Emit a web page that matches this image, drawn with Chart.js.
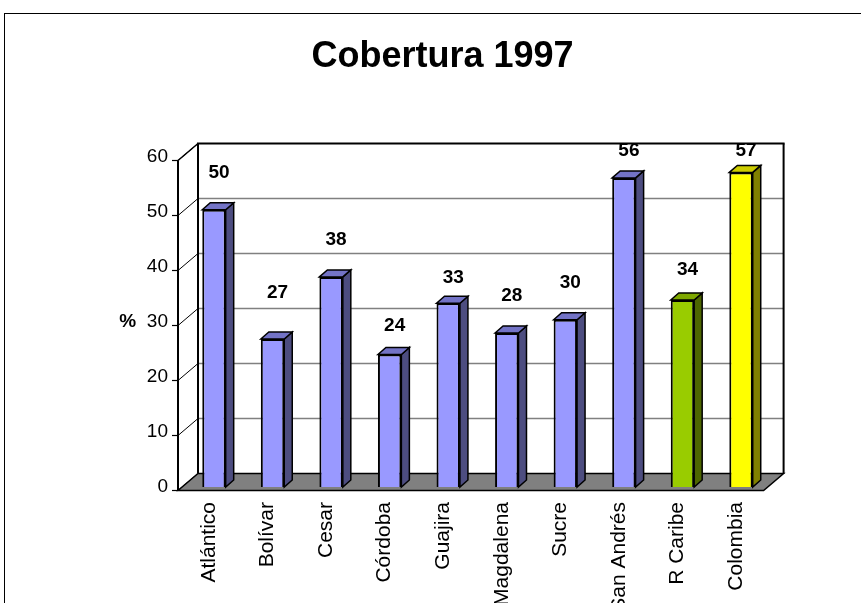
<!DOCTYPE html>
<html><head><meta charset="utf-8">
<script src="https://cdn.jsdelivr.net/npm/chart.js@4/dist/chart.umd.min.js"></script>
<style>html,body{margin:0;padding:0;background:#fff;}#wrap{width:861px;height:603px;}</style>
</head><body><div id="wrap"><canvas id="c" width="861" height="603"></canvas></div>
<script>
// ---- data ----
const categories = ['Atlántico','Bolívar','Cesar','Córdoba','Guajira','Magdalena','Sucre','San Andrés','R Caribe','Colombia'];
const coverage = [50.4, 26.9, 38.2, 24.1, 33.4, 28.0, 30.4, 56.2, 34.0, 57.2];
const yTicks = [0, 10, 20, 30, 40, 50, 60];
const yAxisTitle = '%';
const chartTitle = 'Cobertura 1997';

// ---- styles ----
const FONT = '"Liberation Sans", Arial, sans-serif';
const frontColors = ['#9999FF','#9999FF','#9999FF','#9999FF','#9999FF','#9999FF','#9999FF','#9999FF','#99CC00','#FFFF00'];
const topColors   = ['#7373C6','#7373C6','#7373C6','#7373C6','#7373C6','#7373C6','#7373C6','#7373C6','#7FA800','#CCCC00'];
const sideColors  = ['#4D4D80','#4D4D80','#4D4D80','#4D4D80','#4D4D80','#4D4D80','#4D4D80','#4D4D80','#4D6600','#808000'];
const labelLift = [37.5, 46, 37, 28.5, 26, 37, 37, 27.5, 30, 21.5];
const P = {fx:-6.7, fy:3.5, bx:13.3, by:-13.5};
const BAR_DX = 8, BAR_DY = -7;

function poly(ctx, pts, fill, stroke, lw){
  ctx.beginPath();
  ctx.moveTo(pts[0][0], pts[0][1]);
  for (let i=1;i<pts.length;i++) ctx.lineTo(pts[i][0], pts[i][1]);
  ctx.closePath();
  if (fill){ ctx.fillStyle = fill; ctx.fill(); }
  if (stroke){ ctx.strokeStyle = stroke; ctx.lineWidth = lw || 1; ctx.stroke(); }
}
function line(ctx, x1,y1,x2,y2, color, lw){
  ctx.beginPath(); ctx.moveTo(x1,y1); ctx.lineTo(x2,y2);
  ctx.strokeStyle = color; ctx.lineWidth = lw; ctx.stroke();
}

const threeD = {
  id: 'threeD',
  beforeDraw(chart){
    const ctx = chart.ctx;
    ctx.save();
    ctx.fillStyle = '#fff';
    ctx.fillRect(0,0,chart.width,chart.height);
    ctx.strokeStyle = '#000'; ctx.lineWidth = 1;
    ctx.strokeRect(4.5, 13.5, chart.width + 20, chart.height + 20);
    ctx.restore();
  },
  beforeDatasetsDraw(chart){
    const {ctx, chartArea:a, scales:{y}} = chart;
    const yMax = yTicks[yTicks.length-1];
    const y0 = y.getPixelForValue(0), yT = y.getPixelForValue(yMax);
    const fL = a.left + P.fx, fR = a.right + P.fx;
    const bL = a.left + P.bx, bR = a.right + P.bx;
    ctx.save();
    ctx.lineJoin = 'miter';
    // back wall
    ctx.fillStyle = '#fff';
    ctx.fillRect(bL, yT + P.by, bR - bL, y0 - yT);
    // back wall gridlines
    yTicks.forEach(v => {
      if (v === 0 || v === yMax) return;
      const yy = y.getPixelForValue(v) + P.by;
      line(ctx, bL, yy, bR, yy, '#808080', 1.5);
    });
    // left wall
    poly(ctx, [[fL, yT+P.fy],[bL, yT+P.by],[bL, y0+P.by],[fL, y0+P.fy]], '#fff');
    yTicks.forEach(v => {
      const yv = y.getPixelForValue(v);
      line(ctx, fL, yv+P.fy, bL, yv+P.by, '#000', 1);
    });
    // floor
    poly(ctx, [[fL, y0+P.fy],[fR, y0+P.fy],[bR, y0+P.by],[bL, y0+P.by]], '#808080', '#000', 1.5);
    // back wall border
    line(ctx, bL, y0+P.by, bL, yT+P.by, '#000', 2);
    line(ctx, bL-1, yT+P.by, bR+1, yT+P.by, '#000', 2);
    line(ctx, bR, yT+P.by, bR, y0+P.by, '#000', 2);
    line(ctx, fL, yT+P.fy, bL, yT+P.by, '#000', 1.5);
    // front axis
    line(ctx, fL, yT+P.fy, fL, y0+P.fy, '#000', 2);
    yTicks.forEach(v => {
      const yv = y.getPixelForValue(v) + P.fy;
      line(ctx, fL-6, yv, fL, yv, '#000', 1.2);
    });
    ctx.restore();
  },
  afterDatasetsDraw(chart){
    const ctx = chart.ctx;
    const meta = chart.getDatasetMeta(0);
    ctx.save();
    ctx.lineJoin = 'miter';
    meta.data.forEach((bar, i) => {
      const {x, y, base, width} = bar.getProps(['x','y','base','width'], true);
      const l = x - width/2, r = x + width/2;
      poly(ctx, [[r,y],[r+BAR_DX,y+BAR_DY],[r+BAR_DX,base+BAR_DY],[r,base]], sideColors[i], '#000', 1.5);
      poly(ctx, [[l,y],[l+BAR_DX,y+BAR_DY],[r+BAR_DX,y+BAR_DY],[r,y]], topColors[i], '#000', 1.5);
      ctx.fillStyle = '#000';
      ctx.font = 'bold 19px ' + FONT;
      ctx.textAlign = 'center';
      ctx.textBaseline = 'middle';
      ctx.fillText(String(Math.round(coverage[i])), x + 5, y - labelLift[i]);
    });
    ctx.restore();
  },
  afterDraw(chart){
    const {ctx, chartArea:a, scales:{y}} = chart;
    ctx.save();
    ctx.fillStyle = '#000';
    ctx.font = 'bold 19px ' + FONT;
    ctx.textAlign = 'center';
    ctx.textBaseline = 'middle';
    ctx.fillText(yAxisTitle, a.left - 57, y.getPixelForValue(30));
    ctx.restore();
  }
};

new Chart(document.getElementById('c'), {
  type: 'bar',
  data: {
    labels: categories,
    datasets: [{
      data: coverage,
      backgroundColor: frontColors,
      borderColor: '#000',
      borderWidth: 2,
      barPercentage: 0.4,
      categoryPercentage: 1
    }]
  },
  options: {
    responsive: false,
    animation: false,
    devicePixelRatio: 1,
    layout: {padding: {left: 24, right: 0, top: 0, bottom: 0}},
    plugins: {
      legend: {display: false},
      tooltip: {enabled: false},
      title: {
        display: true, text: chartTitle, color: '#000',
        font: {family: FONT, size: 36, weight: 'bold'},
        padding: {top: 35.4, bottom: 78.4}
      }
    },
    scales: {
      x: {
        grid: {display: false, drawTicks: false},
        border: {display: false},
        ticks: {color: '#000', font: {family: FONT, size: 21}, maxRotation: 90, minRotation: 90, padding: 15, labelOffset: -5, autoSkip: false},
        afterFit(s){ s.height = 116; }
      },
      y: {
        min: 0, max: 60,
        grid: {display: false, drawTicks: false},
        border: {display: false},
        ticks: {stepSize: 10, color: '#000', font: {family: FONT, size: 19}, padding: 16.7},
        afterFit(s){ s.width = 160.7; }
      },
      y2: {
        position: 'right', display: true,
        grid: {display: false, drawTicks: false},
        border: {display: false},
        ticks: {display: false},
        afterFit(s){ s.width = 90.7; }
      }
    }
  },
  plugins: [threeD]
});
</script>
</body></html>
